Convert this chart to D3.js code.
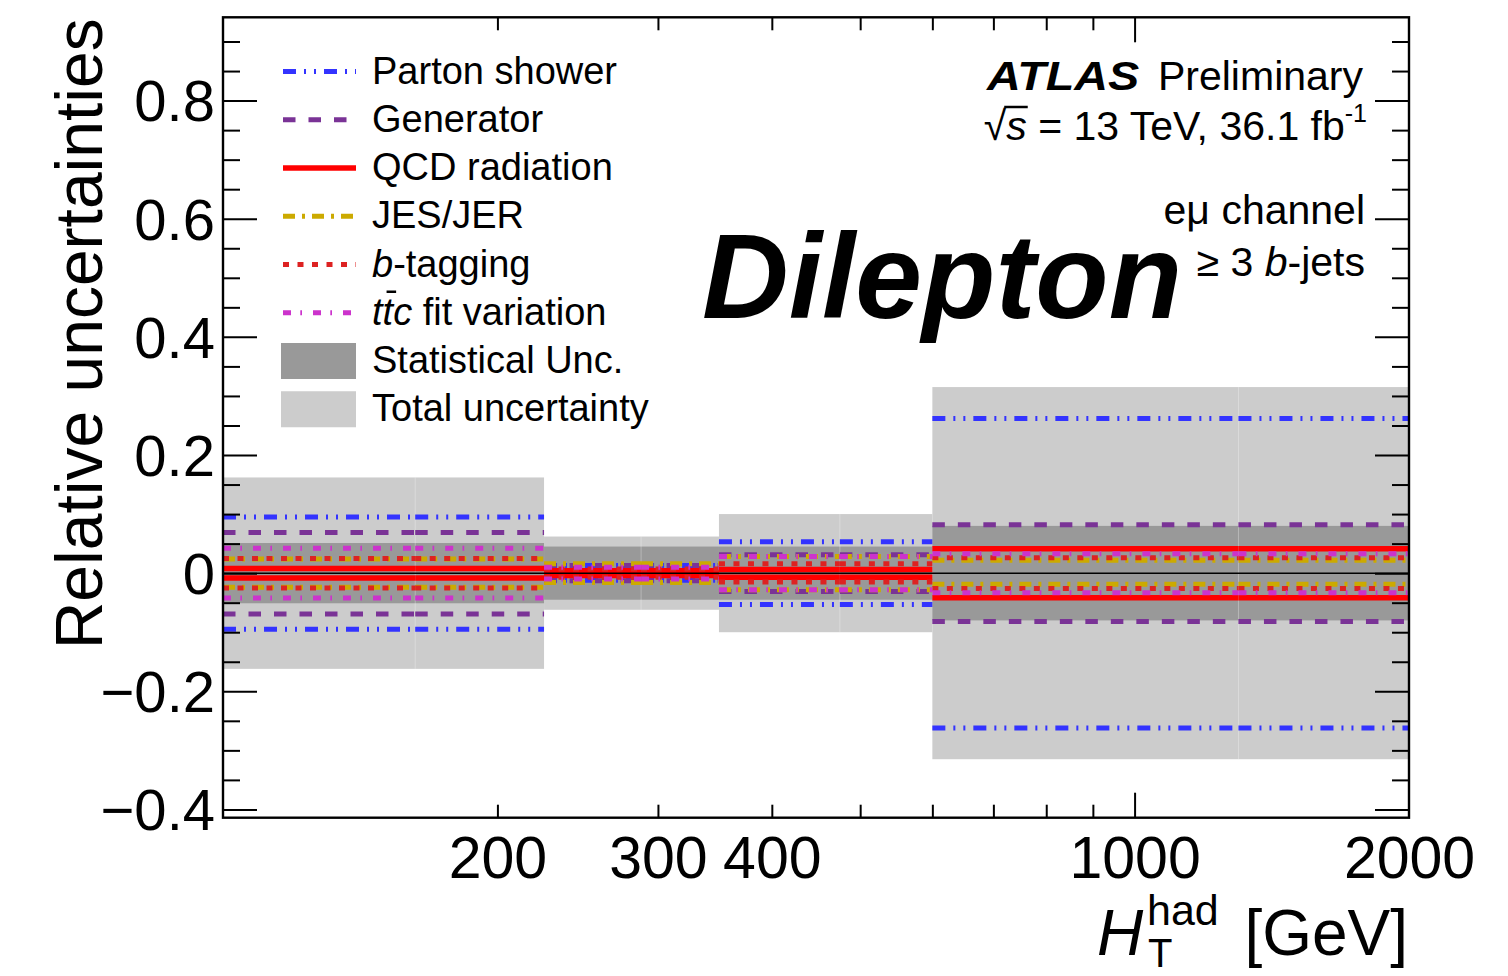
<!DOCTYPE html>
<html>
<head>
<meta charset="utf-8">
<script src="https://cdn.jsdelivr.net/npm/d3@7"></script>
<style>
  body { margin: 0; background: #fff; }
  svg text { font-family: "Liberation Sans", Arial, Helvetica, sans-serif; fill: #000; }
</style>
</head>
<body>
<svg id="chart" width="1508" height="976"></svg>
<script>
// bins in HT^had [GeV]
const binEdges = [100, 225, 350, 600, 2000];

// uncertainty bands (symmetric)
const totalUnc = [0.162, 0.062, 0.100, 0.315];
const statUnc = [0.051, 0.045, 0.045, 0.080];

// systematic components, up / down per bin
const partonShowerUp = [0.095, 0.013, 0.053, 0.262];
const partonShowerDown = [-0.095, -0.012, -0.053, -0.262];
const generatorUp = [0.069, 0.013, 0.031, 0.082];
const generatorDown = [-0.069, -0.013, -0.031, -0.082];
const qcdRadiationUp = [0.008, 0.004, 0.006, 0.0415];
const qcdRadiationDown = [-0.008, -0.004, -0.007, -0.0415];
const jesJerUp = [0.024, 0.016, 0.028, 0.022];
const jesJerDown = [-0.024, -0.016, -0.028, -0.019];
const bTaggingUp = [0.025, 0.007, 0.016, 0.026];
const bTaggingDown = [-0.025, -0.007, -0.015, -0.026];
const ttcFitUp = [0.042, 0.010, 0.028, 0.033];
const ttcFitDown = [-0.042, -0.010, -0.028, -0.033];

const xTickLabels = [200, 300, 400, 1000, 2000];
const xMinorTicks = [200, 300, 400, 500, 600, 700, 800, 900];
const yMajorTicks = [-0.4, -0.2, 0, 0.2, 0.4, 0.6, 0.8];

const series = [
  { up: partonShowerUp, down: partonShowerDown, color: "#3333ff", dash: "13,8,2,8,2,8", width: 5 },
  { up: generatorUp, down: generatorDown, color: "#7a3396", dash: "12.5,13", width: 5 },
  { up: qcdRadiationUp, down: qcdRadiationDown, color: "#ff0000", dash: null, width: 5.5 },
  { up: jesJerUp, down: jesJerDown, color: "#ccaa00", dash: "12,7,3,7", width: 5 },
  { up: bTaggingUp, down: bTaggingDown, color: "#dd2222", dash: "6,8.5", width: 5 },
  { up: ttcFitUp, down: ttcFitDown, color: "#cc33cc", dash: "8,9.3,1.7,11", width: 5 }
];

const svg = d3.select("#chart");
svg.append("rect").attr("width", 1508).attr("height", 976).attr("fill", "#fff");

const margin = {left: 223, right: 1409, top: 17.3, bottom: 817.7};
const x = d3.scaleLog().domain([100, 2000]).range([margin.left, margin.right]);
const y = d3.scaleLinear().domain([-0.414, 0.941]).range([margin.bottom, margin.top]);

const bins = d3.range(binEdges.length - 1).map(i => ({
  i, lo: binEdges[i], hi: binEdges[i + 1], mid: (binEdges[i] + binEdges[i + 1]) / 2
}));

const g = svg.append("g");

// total and statistical bands
g.selectAll(".total").data(bins).join("rect")
  .attr("x", d => x(d.lo)).attr("width", d => x(d.hi) - x(d.lo))
  .attr("y", d => y(totalUnc[d.i])).attr("height", d => y(-totalUnc[d.i]) - y(totalUnc[d.i]))
  .attr("fill", "#cccccc");
g.selectAll(".stat").data(bins).join("rect")
  .attr("x", d => x(d.lo)).attr("width", d => x(d.hi) - x(d.lo))
  .attr("y", d => y(statUnc[d.i])).attr("height", d => y(-statUnc[d.i]) - y(statUnc[d.i]))
  .attr("fill", "#999999");
// faint seams where each bin is split in two halves
g.selectAll(".seam").data(bins).join("line")
  .attr("x1", d => x(d.mid)).attr("x2", d => x(d.mid))
  .attr("y1", d => y(totalUnc[d.i])).attr("y2", d => y(-totalUnc[d.i]))
  .attr("stroke", "rgba(255,255,255,0.3)").attr("stroke-width", 1);

// systematic lines, each bin drawn as two half segments
series.forEach(s => {
  const segs = [];
  bins.forEach(b => {
    [[b.lo, b.mid], [b.mid, b.hi]].forEach(([a, c]) => {
      segs.push({a, c, v: s.up[b.i]});
      segs.push({a, c, v: s.down[b.i]});
    });
  });
  g.append("g").selectAll("line").data(segs).join("line")
    .attr("x1", d => x(d.a)).attr("x2", d => x(d.c))
    .attr("y1", d => y(d.v)).attr("y2", d => y(d.v))
    .attr("stroke", s.color).attr("stroke-width", s.width)
    .attr("stroke-dasharray", s.dash);
});

// zero line
g.append("line")
  .attr("x1", x(100)).attr("x2", x(2000)).attr("y1", y(0)).attr("y2", y(0))
  .attr("stroke", "#000").attr("stroke-width", 1.5);

// axes
function styleAxis(sel) {
  sel.select(".domain").remove();
  sel.selectAll(".tick line").attr("stroke", "#000").attr("stroke-width", 2);
  return sel;
}
const yMinorTicks = d3.range(-0.4, 0.9001, 0.05).map(v => +v.toFixed(2))
  .filter(v => !yMajorTicks.some(t => Math.abs(t - v) < 1e-6));

const fmtY = d => d === 0 ? "0" : d3.format(".1f")(d);

svg.append("g").attr("transform", `translate(${margin.left},0)`)
  .call(d3.axisLeft(y).tickValues(yMajorTicks).tickSize(-34).tickSizeOuter(0).tickPadding(8).tickFormat(fmtY))
  .call(styleAxis)
  .call(a => a.selectAll("text").attr("font-size", 58).attr("font-family", "Liberation Sans, Arial, sans-serif").attr("fill", "#000").attr("dy", "0.35em"));
svg.append("g").attr("transform", `translate(${margin.left},0)`)
  .call(d3.axisLeft(y).tickValues(yMinorTicks).tickSize(-17).tickSizeOuter(0).tickFormat(""))
  .call(styleAxis);
svg.append("g").attr("transform", `translate(${margin.right},0)`)
  .call(d3.axisRight(y).tickValues(yMajorTicks).tickSize(-34).tickSizeOuter(0).tickFormat(""))
  .call(styleAxis);
svg.append("g").attr("transform", `translate(${margin.right},0)`)
  .call(d3.axisRight(y).tickValues(yMinorTicks).tickSize(-17).tickSizeOuter(0).tickFormat(""))
  .call(styleAxis);

svg.append("g").attr("transform", `translate(0,${margin.bottom})`)
  .call(d3.axisBottom(x).tickValues(xMinorTicks).tickSize(-13).tickSizeOuter(0).tickFormat(""))
  .call(styleAxis);
svg.append("g").attr("transform", `translate(0,${margin.bottom})`)
  .call(d3.axisBottom(x).tickValues([1000]).tickSize(-25).tickSizeOuter(0).tickFormat(""))
  .call(styleAxis);
svg.append("g").attr("transform", `translate(0,${margin.top})`)
  .call(d3.axisTop(x).tickValues(xMinorTicks).tickSize(-13).tickSizeOuter(0).tickFormat(""))
  .call(styleAxis);
svg.append("g").attr("transform", `translate(0,${margin.top})`)
  .call(d3.axisTop(x).tickValues([1000]).tickSize(-25).tickSizeOuter(0).tickFormat(""))
  .call(styleAxis);
svg.append("g").attr("transform", `translate(0,${margin.bottom})`)
  .call(d3.axisBottom(x).tickValues(xTickLabels).tickSize(0).tickSizeOuter(0).tickPadding(0).tickFormat(d3.format("d")))
  .call(a => a.select(".domain").remove())
  .call(a => a.selectAll("text").attr("font-size", 59).attr("font-family", "Liberation Sans, Arial, sans-serif")
    .attr("fill", "#000").attr("dy", null).attr("y", 60));

// frame
svg.append("rect")
  .attr("x", margin.left).attr("y", margin.top)
  .attr("width", margin.right - margin.left).attr("height", margin.bottom - margin.top)
  .attr("fill", "none").attr("stroke", "#000").attr("stroke-width", 2.4);

// axis titles
svg.append("text")
  .attr("transform", `translate(102,${margin.top + 1}) rotate(-90)`)
  .attr("text-anchor", "end").attr("font-size", 66)
  .text("Relative uncertainties");

const xt = svg.append("g");
xt.append("text").attr("x", 1097).attr("y", 955).attr("font-size", 64).attr("font-style", "italic").text("H");
xt.append("text").attr("x", 1147).attr("y", 925).attr("font-size", 43).text("had");
xt.append("text").attr("x", 1148).attr("y", 967).attr("font-size", 40).text("T");
xt.append("text").attr("x", 1408).attr("y", 955).attr("font-size", 64).attr("text-anchor", "end").text("[GeV]");

// legend
const legendItems = [
  { kind: "line", s: series[0], parts: [["Parton shower", false]] },
  { kind: "line", s: series[1], parts: [["Generator", false]] },
  { kind: "line", s: series[2], parts: [["QCD radiation", false]] },
  { kind: "line", s: series[3], parts: [["JES/JER", false]] },
  { kind: "line", s: series[4], parts: [["b", true], ["-tagging", false]] },
  { kind: "line", s: series[5], parts: [["t", true], ["t", true], ["c", true], [" fit variation", false]], bar: 1 },
  { kind: "box", fill: "#999999", parts: [["Statistical Unc.", false]] },
  { kind: "box", fill: "#cccccc", parts: [["Total uncertainty", false]] }
];
const leg = svg.append("g");
legendItems.forEach((it, k) => {
  const cy = 71.5 + k * 48.25;
  if (it.kind === "line") {
    leg.append("line").attr("x1", 283).attr("x2", 356).attr("y1", cy).attr("y2", cy)
      .attr("stroke", it.s.color).attr("stroke-width", it.s.width).attr("stroke-dasharray", it.s.dash);
  } else {
    leg.append("rect").attr("x", 281).attr("y", cy - 18).attr("width", 75).attr("height", 36).attr("fill", it.fill);
  }
  const t = leg.append("text").attr("x", 372).attr("y", cy + 12).attr("font-size", 38);
  it.parts.forEach(([txt, ital]) => t.append("tspan").attr("font-style", ital ? "italic" : null).text(txt));
  if (it.bar !== undefined) {
    const node = t.node();
    const s0 = node.getStartPositionOfChar(it.bar);
    const e0 = node.getEndPositionOfChar(it.bar);
    leg.append("line").attr("x1", s0.x + 4).attr("x2", e0.x + 3).attr("y1", cy - 21).attr("y2", cy - 21)
      .attr("stroke", "#000").attr("stroke-width", 2.5);
  }
});

// labels top right
const lab = svg.append("g");
lab.append("text").attr("transform", "translate(987,90) scale(1.14,1)").attr("font-size", 41)
  .attr("font-weight", "bold").attr("font-style", "italic").text("ATLAS");
lab.append("text").attr("x", 1363).attr("y", 90).attr("font-size", 41).attr("text-anchor", "end").text("Preliminary");

const en = lab.append("text").attr("x", 1367).attr("y", 140).attr("font-size", 41).attr("text-anchor", "end");
en.append("tspan").text("\u221A");
en.append("tspan").attr("font-style", "italic").text("s");
en.append("tspan").text(" = 13 TeV, 36.1 fb");
en.append("tspan").attr("font-size", 25).attr("dy", -18).text("-1");
{
  const node = en.node();
  const r = node.getEndPositionOfChar(0);
  const sEnd = node.getEndPositionOfChar(1);
  lab.append("line").attr("x1", r.x - 2).attr("x2", sEnd.x + 1).attr("y1", 107).attr("y2", 107)
    .attr("stroke", "#000").attr("stroke-width", 2.5);
}

lab.append("text").attr("x", 1365).attr("y", 224).attr("font-size", 41).attr("text-anchor", "end").text("e\u03BC channel");
const bj = lab.append("text").attr("x", 1365).attr("y", 276).attr("font-size", 41).attr("text-anchor", "end");
bj.append("tspan").text("\u2265 3 ");
bj.append("tspan").attr("font-style", "italic").text("b");
bj.append("tspan").text("-jets");

lab.append("text").attr("x", 702).attr("y", 318).attr("font-size", 120).attr("font-weight", "bold")
  .attr("font-style", "italic").text("Dilepton");
</script>
</body>
</html>
